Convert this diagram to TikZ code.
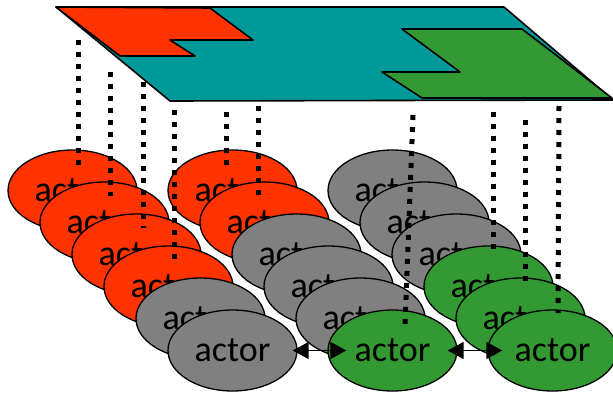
\documentclass[tikz,border=0pt]{standalone}
\usepackage{fontspec}
\setmainfont{Carlito}
\usetikzlibrary{shapes.geometric,arrows.meta}

\definecolor{actred}{RGB}{255,51,0}
\definecolor{actgray}{RGB}{128,128,128}
\definecolor{actgreen}{RGB}{51,153,51}
\definecolor{planeteal}{RGB}{0,153,153}

\tikzset{
  actor/.style={ellipse, draw=black, line width=1.3pt, minimum width=129pt,
    minimum height=81pt, inner sep=0pt, font=\fontsize{36}{36}\selectfont},
  redactor/.style={actor, fill=actred},
  grayactor/.style={actor, fill=actgray},
  greenactor/.style={actor, fill=actgreen},
  dotline/.style={line width=5pt, dash pattern=on 5pt off 7pt, line cap=butt},
  region/.style={draw=black, line width=1.6pt, line join=round},
  link/.style={{Triangle[length=16pt,width=17pt]}-{Triangle[length=16pt,width=17pt]},
    line width=1.4pt},
}

\begin{document}
\begin{tikzpicture}[x=1pt,y=-1pt]
\useasboundingbox (0,0) rectangle (613,394);

% three diagonal stacks of actors, drawn back to front
\foreach \row/\ca/\cb/\cc in {0/redactor/redactor/grayactor,
                              1/redactor/redactor/grayactor,
                              2/redactor/grayactor/grayactor,
                              3/redactor/grayactor/greenactor,
                              4/grayactor/grayactor/greenactor,
                              5/grayactor/greenactor/greenactor}{
  \node[\ca] (a\row) at (72.5+32*\row, 190.5+32*\row) {actor};
  \node[\cb] (b\row) at (232.5+32*\row, 190.5+32*\row) {actor};
  \node[\cc] (c\row) at (392.5+32*\row, 190.5+32*\row) {actor};
}

% projection lines from the shared plane down to the actors
\coordinate (t1) at (78,40);   \coordinate (u1) at (78,165);
\coordinate (t2) at (110,72);  \coordinate (u2) at (110,196);
\coordinate (t3) at (143,82);  \coordinate (u3) at (143,228);
\coordinate (t4) at (174,110); \coordinate (u4) at (174,260);
\coordinate (t5) at (226,112); \coordinate (u5) at (226,165);
\coordinate (t6) at (258,106); \coordinate (u6) at (258,196);
\coordinate (t7) at (413,115); \coordinate (u7) at (405,325);
\coordinate (t8) at (493,112); \coordinate (u8) at (493,250);
\coordinate (t9) at (525,120); \coordinate (u9) at (525,281);
\coordinate (t10) at (559,106); \coordinate (u10) at (558,313);
\foreach \i in {1,...,10}{\draw[dotline] (t\i) -- (u\i);}

% the shared plane with its two partitions
\draw[region, fill=planeteal] (56,7) -- (504,7) -- (613,100) -- (170,101) -- cycle;
\draw[region, fill=actred] (56,7) -- (210,8) -- (253,40) -- (170,40)
  -- (195,56) -- (120,56) -- cycle;
\draw[region, fill=actgreen] (402,29) -- (522,29) -- (612,98) -- (422,98)
  -- (382,72) -- (460,72) -- cycle;

% links between the front actors
\draw[link, yshift=-1.5pt, shorten <=-5pt, shorten >=-19pt] (a5.east) -- (b5.west);
\draw[link, yshift=-1.5pt, shorten <=-10pt, shorten >=-15pt] (b5.east) -- (c5.west);
\end{tikzpicture}
\end{document}
